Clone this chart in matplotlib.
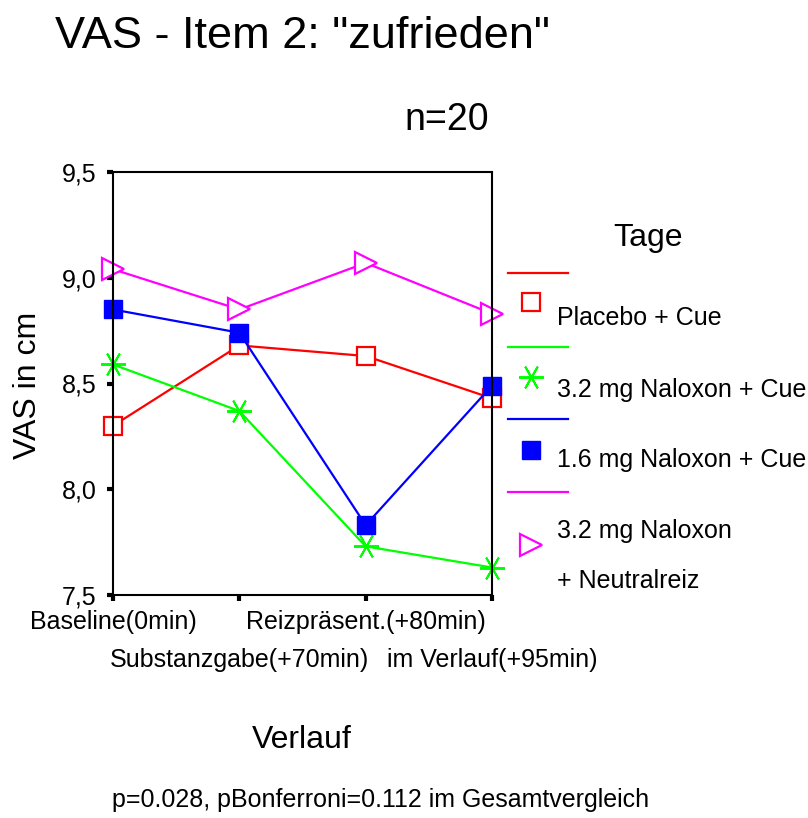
import matplotlib.pyplot as plt
from matplotlib.lines import Line2D

plt.rcParams['font.family'] = ['Liberation Sans', 'DejaVu Sans']

# data
zeitpunkte = ['Baseline(0min)', 'Substanzgabe(+70min)', 'Reizpräsent.(+80min)', 'im Verlauf(+95min)']
placebo_cue = [8.30, 8.68, 8.63, 8.43]
nal32_cue = [8.59, 8.37, 7.73, 7.63]
nal16_cue = [8.85, 8.74, 7.83, 8.49]
nal32_neutral = [9.04, 8.85, 9.07, 8.83]

gruppen = ['Placebo + Cue', '3.2 mg Naloxon + Cue', '1.6 mg Naloxon + Cue', '3.2 mg Naloxon\n\n+ Neutralreiz']
farben = ['#ff0000', '#00ff00', '#0000ff', '#ff00ff']
y_ticks = [7.5, 8.0, 8.5, 9.0, 9.5]
y_ticklabels = ['7,5', '8,0', '8,5', '9,0', '9,5']

W, H = 808, 818
fig = plt.figure(figsize=(W / 100, H / 100), dpi=100)
ax = fig.add_axes([113 / W, 1 - 595 / H, (492 - 113) / W, (595 - 172) / H])

asterisk = (6, 2, 90)
styles = [
    dict(marker='s', markersize=13, markeredgewidth=1.6),
    dict(marker=asterisk, markersize=18, markeredgewidth=1.4),
    dict(marker='s', markersize=13, markeredgewidth=1.0),
    dict(marker='>', markersize=16, markeredgewidth=1.6),
]
hohl = [True, False, False, True]
serien = [placebo_cue, nal32_cue, nal16_cue, nal32_neutral]
x = list(range(len(zeitpunkte)))

for werte, farbe, st, h in zip(serien, farben, styles, hohl):
    ax.plot(x, werte, color=farbe, lw=1.6, markeredgecolor=farbe,
            markerfacecolor='white' if h else farbe, clip_on=False, **st)

ax.set_xlim(0, 3)
ax.set_ylim(7.5, 9.5)
ax.set_yticks(y_ticks, labels=y_ticklabels)
ax.set_xticks([0, 2], labels=[zeitpunkte[0], zeitpunkte[2]])
ax.set_xticks([1, 3], labels=[zeitpunkte[1], zeitpunkte[3]], minor=True)
ax.tick_params(axis='both', which='both', direction='out', length=4, width=3,
               labelsize=18, color='black')
ax.tick_params(axis='x', which='major', pad=7)
ax.tick_params(axis='x', which='minor', pad=34)
ax.tick_params(axis='y', pad=8)
for s in ax.spines.values():
    s.set_linewidth(1.5)

fig.text(55 / W, 1 - 36 / H, 'VAS - Item 2: "zufrieden"', fontsize=32.5, va='center', ha='left')
fig.text(447 / W, 1 - 120 / H, 'n=20', fontsize=27, va='center', ha='center')
fig.text(28 / W, 1 - 385 / H, 'VAS in cm', fontsize=23, rotation=90, va='center', ha='center')
fig.text(302 / W, 1 - 740 / H, 'Verlauf', fontsize=23, va='center', ha='center')
fig.text(381 / W, 1 - 800 / H, 'p=0.028, pBonferroni=0.112 im Gesamtvergleich',
         fontsize=18, va='center', ha='center')

# legend drawn by hand in SPSS style
fig.text(648 / W, 1 - 238 / H, 'Tage', fontsize=23, va='center', ha='center')
linie_y = [273, 347, 419, 492]
marker_y = [302, 377, 450, 545]
text_y = [318, 390, 460, 556]
for i, (farbe, st) in enumerate(zip(farben, styles)):
    fig.add_artist(Line2D([508 / W, 568 / W], [1 - linie_y[i] / H] * 2,
                          transform=fig.transFigure, color=farbe, lw=1.6))
    fc = 'white' if hohl[i] else farbe
    fig.add_artist(Line2D([531 / W], [1 - marker_y[i] / H], transform=fig.transFigure,
                          color=farbe, markeredgecolor=farbe, markerfacecolor=fc,
                          linestyle='none', **st))
    fig.text(557 / W, 1 - text_y[i] / H, gruppen[i], fontsize=18, va='center',
             ha='left', linespacing=1.05)

fig.savefig('out.png', dpi=100)
